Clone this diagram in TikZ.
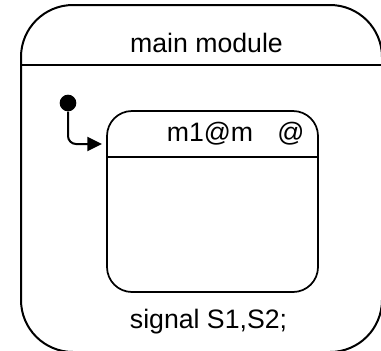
\documentclass[tikz,border=0pt]{standalone}
\usepackage{fontspec}
\setmainfont{Liberation Sans}
\usetikzlibrary{arrows.meta}
\begin{document}
\begin{tikzpicture}[x=0.75pt,y=-0.75pt,
  module/.style={draw, line width=1.5pt, rounded corners=39pt,
    minimum width=270.75pt, minimum height=260.25pt, inner sep=0pt},
  substate/.style={draw, line width=1.3pt, rounded corners=18.75pt,
    minimum width=158.25pt, minimum height=135.75pt, inner sep=0pt},
  divider/.style={line width=1.5pt},
  lbl/.style={font=\fontsize{20}{24}\selectfont, anchor=base, inner sep=0pt},
  initdot/.style={circle, fill=black, minimum size=12.5pt, inner sep=0pt},
  trans/.style={line width=1.5pt, rounded corners=6pt,
    -{Triangle[length=11pt,width=10.5pt]}}
]
\useasboundingbox (0,0) rectangle (381,350);
\clip (0,0) rectangle (381,350);

% outer module with its title compartment
\node[module] (main) at (201.5,178.5) {};
\coordinate (mainsep) at (0,65);
\draw[divider] (main.west |- mainsep) -- (main.east |- mainsep);
\node[lbl] (maintitle) at (206.5,52) {main module};
\node[lbl] (decl) at (208.5,328) {signal S1,S2;};

% nested state m1
\node[substate] (m1) at (212.5,201.5) {};
\coordinate (m1sep) at (0,157);
\draw[divider, line width=1.3pt] (m1.west |- m1sep) -- (m1.east |- m1sep);
\node[lbl] (m1title) at (210,141) {m1@m};
\node[lbl] (m1at) at (291,141) {@};

% initial pseudo-state and its transition into m1
\node[initdot] (init) at (68,103) {};
\coordinate (entry) at (102,144);
\draw[trans] (init) |- (entry);
\end{tikzpicture}
\end{document}
